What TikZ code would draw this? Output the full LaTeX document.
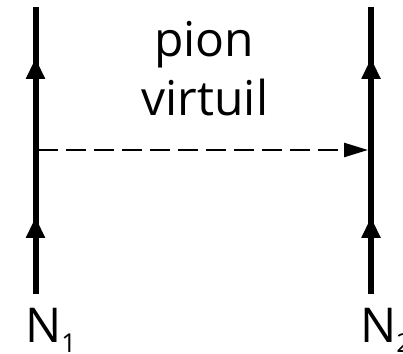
\documentclass[tikz,border=0pt]{standalone}
\usepackage{fontspec}
\setmainfont{Open Sans}
\usetikzlibrary{arrows.meta,decorations.markings}
\begin{document}
\begin{tikzpicture}[x=1pt,y=1pt,
  nucleon/.style={line width=6pt,postaction={decorate},
    decoration={markings,
      mark=at position 77pt with {\arrow{Triangle[length=21pt,width=18pt]}},
      mark=at position 236pt with {\arrow{Triangle[length=21pt,width=18pt]}}}},
  pion/.style={line width=2.5pt,dash pattern=on 20pt off 8pt,
    -{Triangle[length=24pt,width=14pt]}},
  lbl/.style={inner sep=0pt,font=\fontsize{48}{48}\selectfont}]
\useasboundingbox (0,0) rectangle (403,353);
\coordinate (b1) at (35.5,59);
\coordinate (t1) at (35.5,346);
\coordinate (b2) at (371,59);
\coordinate (t2) at (371,346);
\coordinate (p1) at (38,203);
\coordinate (p2) at (368,203);
\draw[nucleon] (b1) -- (t1);
\draw[nucleon] (b2) -- (t2);
\draw[pion] (p1) -- (p2);
\node[lbl,anchor=base] (pi) at (204,296) {pion};
\node[lbl,anchor=base] (vi) at (205,237) {virtuil};
\node[lbl,anchor=base west] (n1) at (25,11) {N\raisebox{-10pt}{\fontsize{26}{26}\selectfont 1}};
\node[lbl,anchor=base west] (n2) at (360,11) {N\raisebox{-10pt}{\fontsize{26}{26}\selectfont 2}};
\end{tikzpicture}
\end{document}
